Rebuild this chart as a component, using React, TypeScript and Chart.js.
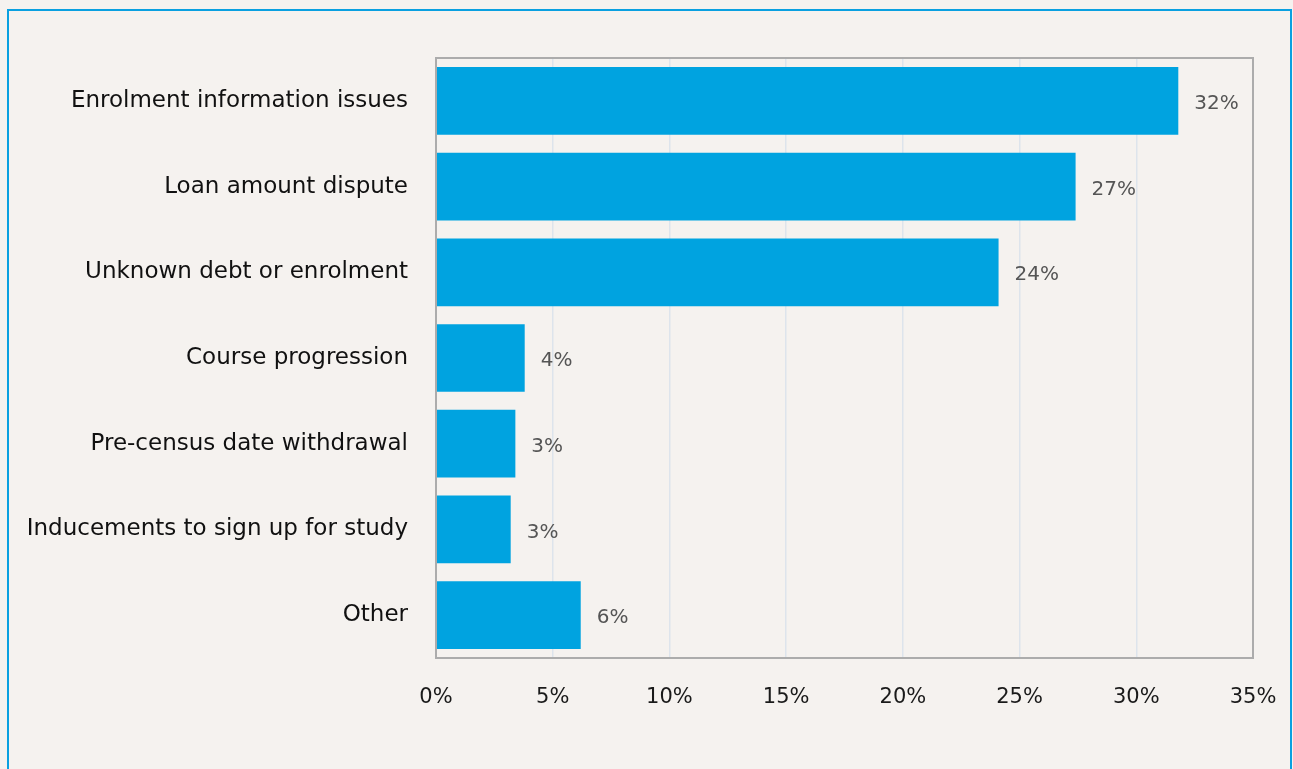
import React, { useEffect, useRef } from "react";
import { Chart, registerables } from "chart.js";

Chart.register(...registerables);

const categories = [
  "Enrolment information issues",
  "Loan amount dispute",
  "Unknown debt or enrolment",
  "Course progression",
  "Pre-census date withdrawal",
  "Inducements to sign up for study",
  "Other",
];
const values = [31.8, 27.4, 24.1, 3.8, 3.4, 3.2, 6.2];
const xTicks = [0, 5, 10, 15, 20, 25, 30, 35];

const FONT = "'DejaVu Sans', sans-serif";
const BG = "#f5f2ef";
const BAR = "#00a3e0";

const plotBorder = {
  id: "plotBorder",
  afterDatasetsDraw(chart: any) {
    const { ctx, chartArea: a } = chart;
    ctx.save();
    ctx.strokeStyle = "#acacac";
    ctx.lineWidth = 2;
    ctx.strokeRect(a.left, a.top, a.right - a.left, a.bottom - a.top);
    ctx.restore();
  },
};

const valueLabels = {
  id: "valueLabels",
  afterDatasetsDraw(chart: any) {
    const { ctx } = chart;
    const meta = chart.getDatasetMeta(0);
    ctx.save();
    ctx.font = `20px ${FONT}`;
    ctx.fillStyle = "#555555";
    ctx.textAlign = "left";
    ctx.textBaseline = "middle";
    meta.data.forEach((bar: any, i: number) => {
      ctx.fillText(Math.round(values[i]) + "%", bar.x + 16, bar.y + 3);
    });
    ctx.restore();
  },
};

export default function App() {
  const ref = useRef<HTMLCanvasElement>(null);
  useEffect(() => {
    const chart = new Chart(ref.current!, {
      type: "bar",
      data: {
        labels: categories,
        datasets: [
          {
            data: values,
            backgroundColor: BAR,
            categoryPercentage: 1,
            barPercentage: 0.79,
          },
        ],
      },
      options: {
        indexAxis: "y",
        animation: false,
        responsive: false,
        layout: { padding: { top: 58, right: 40, left: 0, bottom: 0 } },
        plugins: { legend: { display: false }, tooltip: { enabled: false } },
        scales: {
          y: {
            afterFit: (s: any) => {
              s.width = 436;
              s.paddingTop = 0;
              s.paddingBottom = 0;
            },
            grid: { display: false, drawTicks: false },
            border: { display: false },
            ticks: { padding: 28, color: "#111111", font: { family: FONT, size: 23 } },
          },
          x: {
            min: 0,
            max: 35,
            afterFit: (s: any) => {
              s.height = 111;
              s.paddingLeft = 0;
              s.paddingRight = 0;
            },
            afterBuildTicks: (s: any) => {
              s.ticks = xTicks.map((v) => ({ value: v }));
            },
            grid: {
              drawTicks: false,
              color: (c: any) =>
                c.tick && (c.tick.value === 0 || c.tick.value === 35) ? "rgba(0,0,0,0)" : "#dde4ec",
              lineWidth: 1.5,
            },
            border: { display: false },
            ticks: {
              padding: 27,
              color: "#1a1a1a",
              font: { family: FONT, size: 21 },
              callback: (v: any) => v + "%",
            },
          },
        },
      },
      plugins: [plotBorder, valueLabels],
    });
    return () => chart.destroy();
  }, []);

  return (
    <div style={{ position: "fixed", left: 0, top: 0, width: 1293, height: 769, background: BG, overflow: "hidden" }}>
      <div
        style={{
          position: "absolute",
          left: 7,
          top: 9,
          width: 1285,
          height: 800,
          border: "2px solid #0aa0e0",
          boxSizing: "border-box",
        }}
      />
      <canvas ref={ref} width={1293} height={769} style={{ position: "absolute", left: 0, top: 0 }} />
    </div>
  );
}
